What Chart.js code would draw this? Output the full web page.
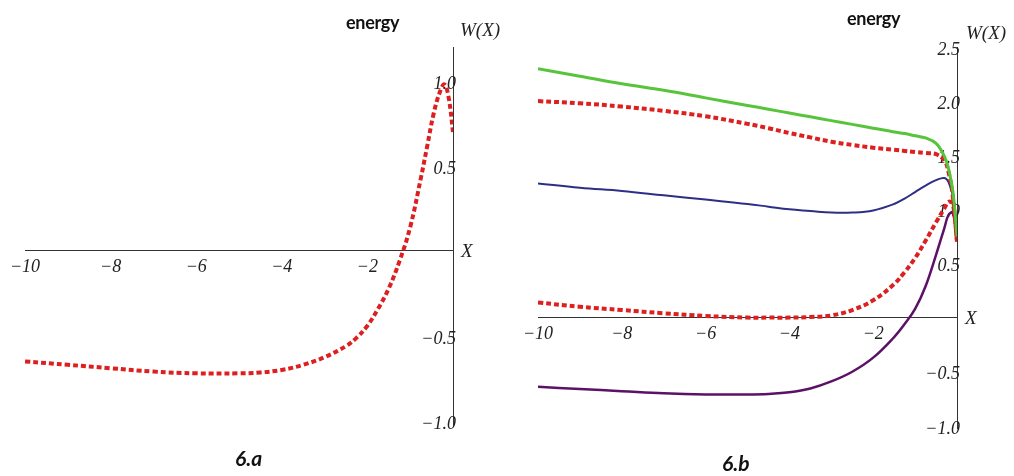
<!DOCTYPE html>
<html>
<head>
<meta charset="utf-8">
<script src="https://cdn.jsdelivr.net/npm/chart.js@4"></script>
<style>
body{margin:0;background:#fff;width:1014px;height:476px;position:relative;overflow:hidden}
.box{position:absolute;top:0;height:476px}
.lbl{position:absolute;white-space:nowrap;color:#222;line-height:1}
.serif{font-family:"Liberation Serif",serif;font-style:italic;font-size:19px}
.energy{font-family:Lato,sans-serif;font-weight:700;font-size:18px;color:#111;letter-spacing:-0.3px}
.cap{font-family:Lato,sans-serif;font-weight:700;font-style:italic;font-size:21px;color:#111}
</style>
</head>
<body>
<div class="box" style="left:0;width:500px"><canvas id="chartA"></canvas></div>
<div class="box" style="left:500px;width:514px"><canvas id="chartB"></canvas></div>

<div class="lbl energy" style="left:346px;top:13px">energy</div>
<div class="lbl serif" style="left:460px;top:20px">W(X)</div>
<div class="lbl serif" style="left:461px;top:241px">X</div>
<div class="lbl cap" style="left:235px;top:447px">6.a</div>

<div class="lbl energy" style="left:847px;top:9px">energy</div>
<div class="lbl serif" style="left:966px;top:23px">W(X)</div>
<div class="lbl serif" style="left:965px;top:308px">X</div>
<div class="lbl cap" style="left:722px;top:452px">6.b</div>

<script>
// panel 6.a
var xA = [-10,-9,-8,-7,-6,-5,-4.5,-4,-3.5,-3,-2.5,-2.25,-2,-1.75,-1.5,-1.25,-1,-0.75,-0.6,-0.45,-0.3,-0.2,-0.1,0];
var redA = [-0.65,-0.67,-0.69,-0.71,-0.72,-0.72,-0.715,-0.70,-0.67,-0.625,-0.56,-0.51,-0.44,-0.34,-0.22,-0.06,0.14,0.43,0.62,0.81,0.94,0.98,0.90,0.70];

// panel 6.b
var xB = [-10,-9,-8,-7,-6,-5,-4.5,-4,-3.5,-3,-2.5,-2,-1.5,-1.25,-1,-0.75,-0.5,-0.3,-0.2,-0.1,0];
var greenB = [2.30,2.23,2.16,2.10,2.03,1.96,1.925,1.89,1.855,1.82,1.785,1.75,1.715,1.70,1.68,1.66,1.61,1.49,1.37,1.17,0.75];
var redUpB = [2.00,1.98,1.95,1.91,1.86,1.79,1.75,1.705,1.665,1.625,1.595,1.57,1.55,1.54,1.53,1.52,1.51,1.45,1.34,1.12,0.70];
var blueB = [1.24,1.20,1.17,1.13,1.09,1.05,1.025,1.00,0.985,0.97,0.97,0.99,1.05,1.10,1.16,1.22,1.27,1.29,1.25,1.12,0.72];
var redLowB = [0.14,0.10,0.07,0.04,0.015,0.00,0.00,0.00,0.005,0.02,0.07,0.16,0.31,0.42,0.55,0.71,0.88,1.01,1.07,1.05,0.70];
var purpleB = [-0.64,-0.66,-0.68,-0.70,-0.71,-0.71,-0.705,-0.69,-0.655,-0.59,-0.50,-0.37,-0.18,-0.06,0.08,0.29,0.58,0.83,0.95,0.97,0.72];

// tick labels
var xTicks = [-10,-8,-6,-4,-2];
var yTicksA = [-1.0,-0.5,0.5,1.0];
var yTicksB = [-1.0,-0.5,0.5,1.0,1.5,2.0,2.5];

var tickFont = {family:'"Liberation Serif", serif', style:'italic', size:18};

function pts(xs, ys){
    return xs.map(function(x,i){ return {x:x, y:ys[i]}; });
}
function minus(s){ return s.replace('-', '\u2212'); }

function solid(ys, color, w){
    return {data:pts(xB, ys), borderColor:color, borderWidth:w, pointRadius:0, tension:0.4, fill:false};
}
function dotted(xs, ys){
    return {data:pts(xs, ys), borderColor:'#dd1f1f', borderWidth:4, borderDash:[5,3], pointRadius:0, tension:0.4, fill:false};
}

function makeOptions(ymin, ymax, yTicks, pad){
    return {
        responsive:true,
        maintainAspectRatio:false,
        animation:false,
        layout:{padding:pad},
        plugins:{legend:{display:false}, tooltip:{enabled:false}},
        scales:{
            x:{
                type:'linear', min:-10, max:0,
                position:{y:0},
                grid:{display:false},
                border:{display:true, color:'#333', width:1},
                afterBuildTicks:function(s){ s.ticks = xTicks.map(function(v){ return {value:v}; }); },
                ticks:{font:tickFont, color:'#222', padding:-2, maxRotation:0,
                    callback:function(v){ return minus(String(v)); }}
            },
            y:{
                type:'linear', min:ymin, max:ymax,
                position:'right',
                grid:{display:false},
                border:{display:true, color:'#333', width:1},
                afterBuildTicks:function(s){ s.ticks = yTicks.map(function(v){ return {value:v}; }); },
                afterFit:function(s){ s.width = 0; },
                ticks:{font:tickFont, color:'#222', mirror:true, padding:3, labelOffset:3,
                    callback:function(v){ return minus(v.toFixed(1)); }}
            }
        }
    };
}

new Chart(document.getElementById('chartA').getContext('2d'), {
    type:'line',
    data:{datasets:[dotted(xA, redA)]},
    options:makeOptions(-1.03, 1.2, yTicksA, {left:25, right:47, top:47, bottom:50})
});

new Chart(document.getElementById('chartB').getContext('2d'), {
    type:'line',
    data:{datasets:[
        solid(greenB, '#58c43c', 3),
        dotted(xB, redUpB),
        solid(blueB, '#2d2f86', 2),
        dotted(xB, redLowB),
        solid(purpleB, '#5b1266', 2.5)
    ]},
    options:makeOptions(-1.02, 2.5, yTicksB, {left:38, right:57, top:47, bottom:48})
});
</script>
</body>
</html>
